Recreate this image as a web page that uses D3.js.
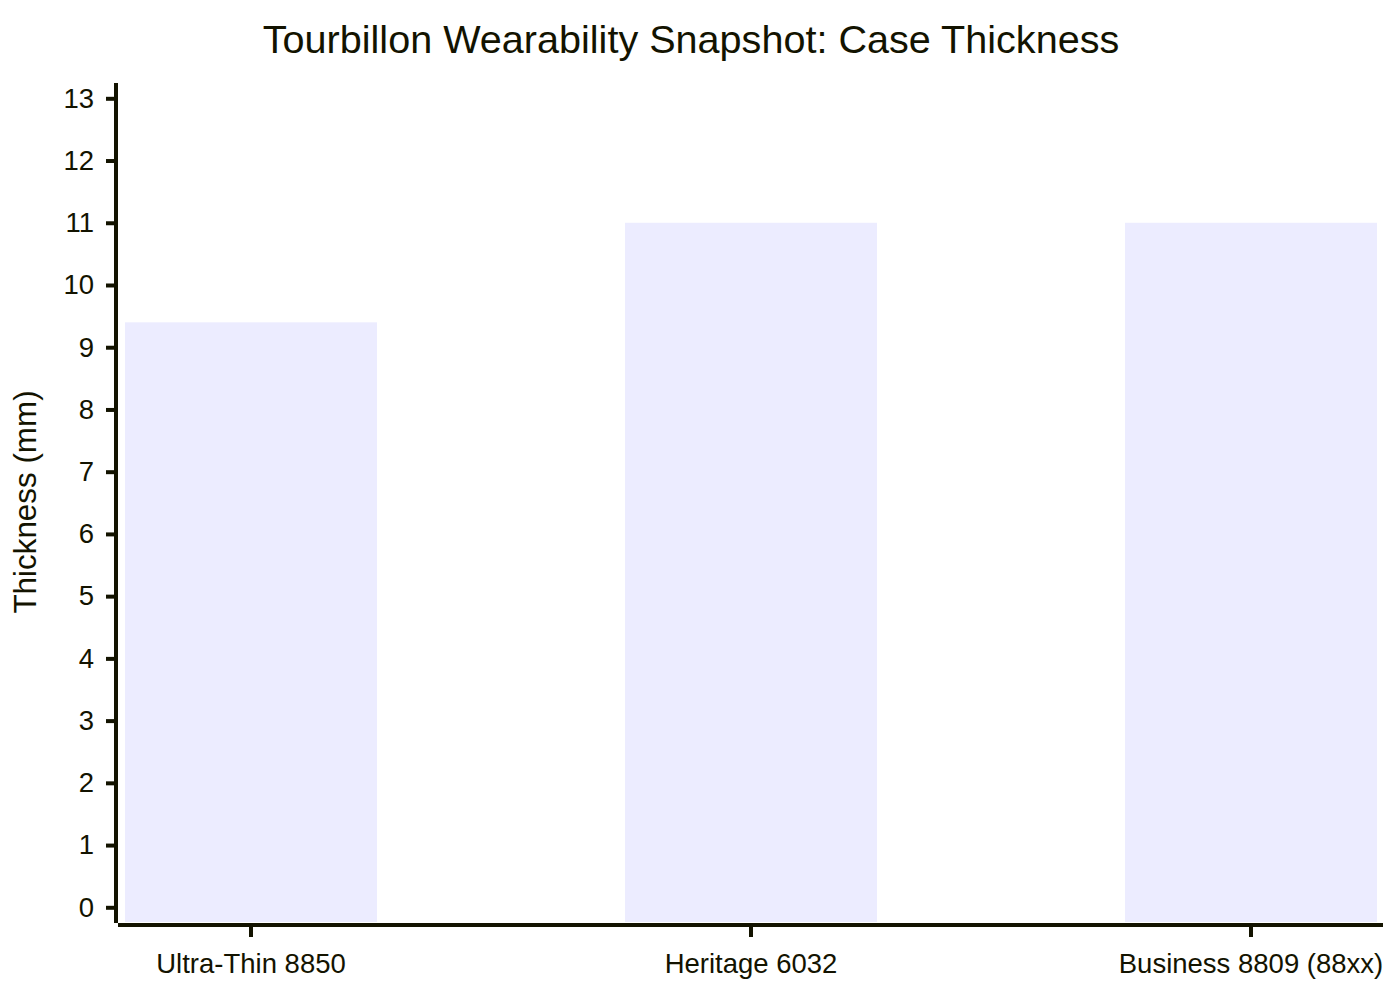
<!DOCTYPE html>
<html>
<head>
<meta charset="utf-8">
<script src="https://cdn.jsdelivr.net/npm/d3@7"></script>
<style>
  body { margin: 0; background: #fff; }
  svg { display: block; font-family: "Liberation Sans", Arial, sans-serif; }
</style>
</head>
<body>
<div id="chart"></div>
<script>
// data
var models = ["Ultra-Thin 8850", "Heritage 6032", "Business 8809 (88xx)"];
var thickness = [9.4, 11, 11];
var yTicks = [0, 1, 2, 3, 4, 5, 6, 7, 8, 9, 10, 11, 12, 13];

var width = 1400, height = 1000;
var ink = "#131300";
var barColor = "#ECECFF";

// plot box
var plotLeft = 118, plotRight = 1383, plotTop = 83, plotBottom = 923;

var svg = d3.select("#chart")
  .append("svg")
  .attr("width", width)
  .attr("height", height);

var x = d3.scaleBand()
  .domain(models)
  .range([plotLeft + 1, plotRight])
  .paddingInner(0.496)
  .paddingOuter(0.012);

var y = d3.scaleLinear()
  .domain([0, 13])
  .range([907.3, 98.3]);

// title
svg.append("text")
  .attr("x", 691)
  .attr("y", 53)
  .attr("text-anchor", "middle")
  .attr("font-size", 39.6)
  .attr("fill", ink)
  .text("Tourbillon Wearability Snapshot: Case Thickness");

// bars
svg.append("g")
  .selectAll("rect")
  .data(models)
  .join("rect")
  .attr("x", (d) => x(d))
  .attr("width", x.bandwidth())
  .attr("y", (d, i) => y(thickness[i]))
  .attr("height", (d, i) => plotBottom - 1 - y(thickness[i]))
  .attr("fill", barColor);

// y axis
var yAxis = svg.append("g")
  .attr("transform", "translate(" + (plotLeft - 2) + ",0)")
  .call(d3.axisLeft(y).tickValues(yTicks).tickSize(10).tickSizeOuter(0).tickPadding(12));
yAxis.select(".domain").remove();
yAxis.selectAll(".tick line").attr("stroke", ink).attr("stroke-width", 4);
yAxis.selectAll(".tick text")
  .attr("fill", ink)
  .attr("font-size", 27.5)
  .attr("font-family", "Liberation Sans, Arial, sans-serif");

svg.append("line")
  .attr("x1", plotLeft - 2).attr("x2", plotLeft - 2)
  .attr("y1", plotTop).attr("y2", plotBottom)
  .attr("stroke", ink)
  .attr("stroke-width", 4);

// x axis
var xAxis = svg.append("g")
  .attr("transform", "translate(0," + (plotBottom + 2) + ")")
  .call(d3.axisBottom(x).tickSize(12).tickSizeOuter(0).tickPadding(16.5));
xAxis.select(".domain").remove();
xAxis.selectAll(".tick line").attr("stroke", ink).attr("stroke-width", 4);
xAxis.selectAll(".tick text")
  .attr("fill", ink)
  .attr("font-size", 27.5)
  .attr("font-family", "Liberation Sans, Arial, sans-serif");

svg.append("line")
  .attr("x1", plotLeft).attr("x2", plotRight)
  .attr("y1", plotBottom + 2).attr("y2", plotBottom + 2)
  .attr("stroke", ink)
  .attr("stroke-width", 4);

// y axis title
svg.append("text")
  .attr("transform", "translate(36,502) rotate(-90)")
  .attr("text-anchor", "middle")
  .attr("font-size", 31.4)
  .attr("fill", ink)
  .text("Thickness (mm)");
</script>
</body>
</html>
